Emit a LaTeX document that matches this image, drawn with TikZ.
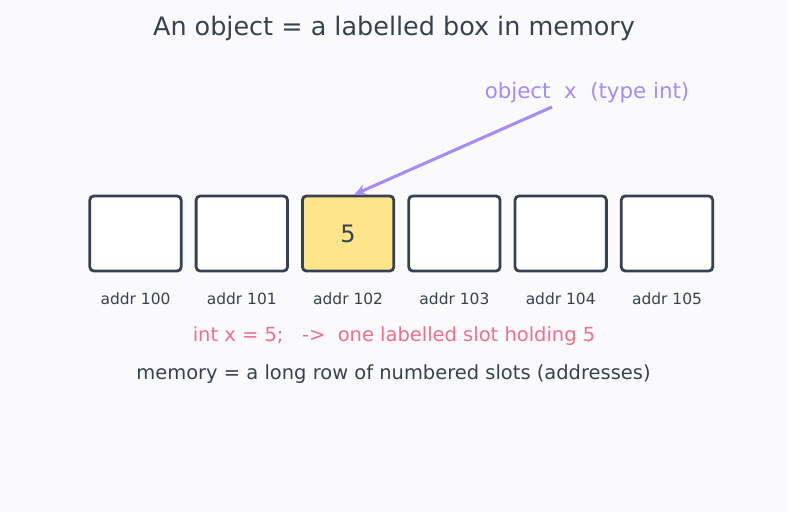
\documentclass[tikz,border=0pt]{standalone}
\usepackage{fontspec}
\setmainfont{DejaVu Sans}
\usepackage{xcolor}
\usepackage{tikz}
\usetikzlibrary{arrows.meta, positioning}
\definecolor{slate}{HTML}{374151}
\definecolor{memyellow}{HTML}{FDE68A}
\definecolor{objviolet}{HTML}{A78BFA}
\definecolor{declrose}{HTML}{F07087}
\definecolor{pagebg}{HTML}{FAFAFD}

\begin{document}
\begin{tikzpicture}[x=0.75pt, y=-0.75pt,
	slot/.style={draw=slate, line width=2.1pt, rounded corners=3pt, minimum width=68.5pt, minimum height=56.3pt, inner sep=0pt, text=slate, font=\fontsize{18}{20}\selectfont},
	addrlbl/.style={text=slate, font=\fontsize{11.6}{13}\selectfont, inner sep=0pt},
	pointer/.style={-{Stealth[length=9pt, width=8pt]}, objviolet, line width=2.3pt}]
		% Page
		\fill[pagebg] (0,0) rectangle (787,512);
		\node[text=slate, font=\fontsize{19.1}{22}\selectfont, inner sep=0pt] (title) at (394,28) {An object = a labelled box in memory};
		% Row of memory slots
		\foreach \i/\f/\v in {0/white/{}, 1/white/{}, 2/memyellow/5, 3/white/{}, 4/white/{}, 5/white/{}} {
			\node[slot, fill=\f] (b\i) at ({135.5+106.3*\i},233.5) {\v};
			\node[addrlbl] (a\i) at ({135.5+106.3*\i},299) {addr 10\i};
		}
		% Object name pointing at its slot
		\node[text=objviolet, font=\fontsize{16}{19}\selectfont, inner sep=0pt] (objname) at (587,93) {object\ \ x\ \ (type int)};
		\coordinate (tail) at (552,107);
		\draw[pointer] (tail) -- ([xshift=4.5pt]b2.north);
		% Notes
		\node[text=declrose, font=\fontsize{14.6}{17}\selectfont, inner sep=0pt] (decl) at (394,336) {int x = 5;\ \ \ ->\ \ one labelled slot holding 5};
		\node[text=slate, font=\fontsize{14.6}{17}\selectfont, inner sep=0pt] (memnote) at (393.5,374) {memory = a long row of numbered slots (addresses)};
	\end{tikzpicture}
\end{document}
